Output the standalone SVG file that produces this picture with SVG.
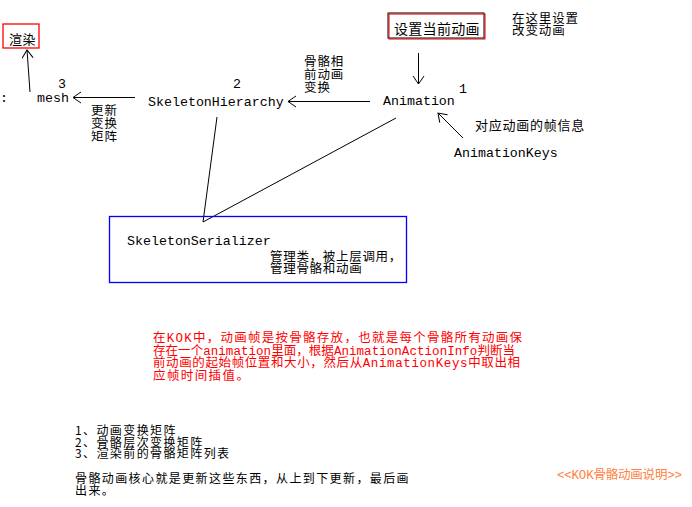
<svg xmlns="http://www.w3.org/2000/svg" width="692" height="507" viewBox="0 0 692 507">
<style>
.cn{font-family:"Noto Sans CJK SC","Noto Sans CJK JP",sans-serif;font-size:12.5px;fill:#000;letter-spacing:0.9px}
.mono{font-family:"Liberation Mono","Noto Sans CJK SC",monospace;font-size:13.3px;fill:#000}
.para{font-family:"Liberation Mono","Noto Sans CJK SC",monospace;font-size:12.5px}
.red{fill:#ff0000}
.orange{fill:#ff8040}
.edge{stroke:#000;stroke-width:1;fill:none}
.small{font-size:12px;letter-spacing:1.4px}
</style>
<defs>
<marker id="arr" markerUnits="userSpaceOnUse" markerWidth="14" markerHeight="14" refX="9" refY="6" orient="auto">
<path d="M1,0.5 L9,6 L1,11.5" fill="none" stroke="#000" stroke-width="1"/>
</marker>
</defs>
<rect width="692" height="507" fill="#fff"/>

<g id="connectors">
<line class="edge" x1="30" y1="92" x2="27" y2="50" marker-end="url(#arr)"/>
<line class="edge" x1="135" y1="97.5" x2="73" y2="97.5" marker-end="url(#arr)"/>
<line class="edge" x1="370" y1="101.5" x2="288" y2="101.5" marker-end="url(#arr)"/>
<line class="edge" x1="418.5" y1="53" x2="418.5" y2="84" marker-end="url(#arr)"/>
<line class="edge" x1="463" y1="138" x2="438" y2="113" marker-end="url(#arr)"/>
<line class="edge" x1="217" y1="117" x2="203" y2="222"/>
<line class="edge" x1="396" y1="118" x2="203" y2="222"/>
</g>

<g id="render">
<rect x="3" y="24" width="36" height="24" fill="none" stroke="#ff0000" stroke-width="1.3"/>
<text class="cn" x="9" y="44" style="font-size:13px;letter-spacing:0.5px">渲染</text>
</g>

<g id="mesh">
<text class="mono" x="0" y="102">:</text>
<text class="mono" x="58" y="88">3</text>
<text class="mono" x="37" y="102">mesh</text>
<text class="cn" x="91" y="115">更新</text>
<text class="cn" x="91" y="128">变换</text>
<text class="cn" x="91" y="141">矩阵</text>
</g>

<g id="skeletonHierarchy">
<text class="mono" x="233" y="88">2</text>
<text class="mono" x="148" y="106">SkeletonHierarchy</text>
<text class="cn" x="304" y="66">骨骼相</text>
<text class="cn" x="304" y="79">前动画</text>
<text class="cn" x="304" y="92">变换</text>
</g>

<g id="setAnimation">
<rect x="388" y="13" width="96" height="25" fill="none" stroke="#000" stroke-width="1"/>
<rect x="389" y="14" width="96" height="25" fill="none" stroke="#e00000" stroke-width="1"/>
<text class="cn" x="394" y="34" style="font-size:14px;letter-spacing:0.3px">设置当前动画</text>
<text class="cn" x="512" y="23">在这里设置</text>
<text class="cn" x="512" y="35">改变动画</text>
</g>

<g id="animation">
<text class="mono" x="383" y="105">Animation</text>
<text class="mono" x="459" y="93">1</text>
</g>

<g id="animationKeys">
<text class="cn" x="475" y="130" style="font-size:13px;letter-spacing:0.75px">对应动画的帧信息</text>
<text class="mono" x="454" y="157">AnimationKeys</text>
</g>

<g id="skeletonSerializer">
<rect x="109.5" y="216.5" width="297" height="66" fill="none" stroke="#0000ff" stroke-width="1.3"/>
<text class="mono" x="127" y="245">SkeletonSerializer</text>
<text class="cn" x="270" y="261" style="letter-spacing:0.7px">管理类，被上层调用，</text>
<text class="cn" x="270" y="273" style="letter-spacing:0.7px">管理骨骼和动画</text>
</g>

<g id="note">
<text class="para red" x="153" y="342" textLength="369" lengthAdjust="spacing">在KOK中，动画帧是按骨骼存放，也就是每个骨骼所有动画保</text>
<text class="para red" x="153" y="354.5" textLength="362" lengthAdjust="spacing">存在一个animation里面，根据AnimationActionInfo判断当</text>
<text class="para red" x="153" y="367" textLength="367" lengthAdjust="spacing">前动画的起始帧位置和大小，然后从AnimationKeys中取出相</text>
<text class="para red" x="153" y="379.5" style="letter-spacing:1.4px">应帧时间插值。</text>
</g>

<g id="summary">
<text class="cn small" x="75" y="435">1、动画变换矩阵</text>
<text class="cn small" x="75" y="446.5">2、骨骼层次变换矩阵</text>
<text class="cn small" x="75" y="458">3、渲染前的骨骼矩阵列表</text>
<text class="cn small" x="75" y="483">骨骼动画核心就是更新这些东西，从上到下更新，最后画</text>
<text class="cn small" x="75" y="495">出来。</text>
</g>

<g id="title">
<text class="para orange" x="557" y="479" textLength="125" lengthAdjust="spacing">&lt;&lt;KOK骨骼动画说明&gt;&gt;</text>
</g>
</svg>
